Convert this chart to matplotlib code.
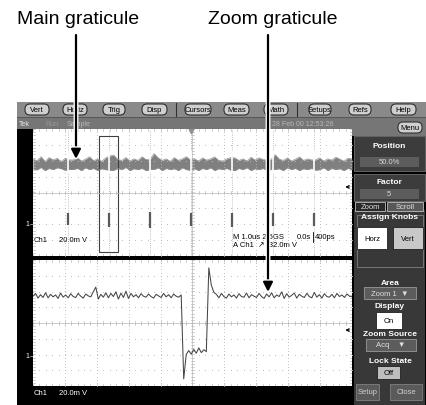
import numpy as np
import matplotlib
matplotlib.use("Agg")
import matplotlib.pyplot as plt
from matplotlib.patches import Rectangle, FancyBboxPatch
import matplotlib.patheffects as pe

plt.rcParams['font.family'] = ['Liberation Sans', 'DejaVu Sans']

W, H = 427, 406

# ---- data ----
menu_buttons = ['Vert', 'Horiz', 'Trig', 'Disp', 'Cursors', 'Meas', 'Math', 'Setups', 'Refs', 'Help']
callouts = ['Main graticule', 'Zoom graticule']

# main graticule trace: noisy band envelope (divisions)
main_upper = [2.10, 2.00, 2.25, 1.95, 2.20, 2.05, 2.15, 1.95, 2.15, 2.05,
              2.05, 2.20, 1.98, 2.10, 2.25, 2.00, 2.12, 1.96, 2.18, 2.30,
              2.35, 2.08, 2.02, 2.20, 1.98, 2.12, 2.02, 2.25, 2.08, 2.10,
              2.45, 2.18, 2.02, 2.12, 1.96, 2.20, 2.02, 2.12, 2.25, 2.05,
              2.12, 1.98, 2.18, 2.04, 2.12, 2.24, 2.02, 1.98, 2.12, 2.20,
              2.18, 2.02, 2.12, 1.98, 2.22, 2.04, 2.18, 2.08, 2.04, 2.10,
              2.38, 2.10, 2.02, 2.18, 1.98, 2.10, 2.24, 2.02, 2.12, 2.05,
              2.05, 2.18, 1.98, 2.12, 2.04, 2.22, 2.10, 1.98, 2.16, 2.10]
main_lower = [1.50, 1.42, 1.58, 1.38, 1.52, 1.44, 1.56, 1.50, 1.40, 1.45,
              1.45, 1.52, 1.38, 1.56, 1.44, 1.52, 1.38, 1.50, 1.44, 1.40,
              1.40, 1.52, 1.44, 1.58, 1.38, 1.50, 1.44, 1.52, 1.38, 1.45,
              1.45, 1.56, 1.38, 1.52, 1.44, 1.50, 1.38, 1.56, 1.44, 1.40,
              1.50, 1.38, 1.52, 1.44, 1.56, 1.38, 1.50, 1.44, 1.52, 1.40,
              1.38, 1.52, 1.44, 1.56, 1.38, 1.50, 1.44, 1.52, 1.38, 1.45,
              1.45, 1.50, 1.38, 1.56, 1.44, 1.52, 1.38, 1.50, 1.44, 1.52,
              1.40, 1.44, 1.56, 1.38, 1.52, 1.44, 1.50, 1.38, 1.52, 1.44]
glitch_x = [1.10, 2.38, 3.67, 4.95, 6.24, 7.52, 8.81]
glitch_top = [-1.30, -1.30, -1.25, -1.30, -1.30, -1.30, -1.30]
glitch_bottom = [-2.05, -2.15, -2.25, -2.10, -2.15, -2.10, -2.10]

# zoom graticule trace (divisions), one sample every 2.5 px
zoom_trace = [1.70, 1.88, 1.58, 1.80, 1.62, 1.92, 1.60, 1.82, 1.66, 1.78,
              1.56, 1.90, 1.64, 1.78, 1.60, 1.86, 1.68, 1.62, 1.88, 1.70,
              1.58, 1.84, 1.72, 1.66, 1.98, 2.28, 1.52, 1.82, 1.64, 1.92,
              1.60, 1.88, 1.68, 1.98, 1.52, 1.90, 1.62, 2.02, 1.56, 1.88,
              1.66, 1.80, 1.60, 1.86, 1.70, 1.64, 1.84, 1.68, 1.58, 1.82,
              1.72, 1.62, 1.88, 1.66, 1.80, 1.60, 1.84, 1.70, 1.64, 1.78,
              -3.55, -2.00, -1.75, -1.98, -1.68, -1.92, -1.58, -1.88, -1.70, -1.82,
              3.50, 2.40, 1.95, 1.82, 1.60, 1.88, 1.68, 1.58, 1.84, 1.66,
              1.78, 1.58, 1.86, 1.68, 1.64, 1.90, 1.60, 1.80, 1.70, 1.62,
              1.88, 1.68, 1.56, 1.84, 1.66, 1.92, 1.60, 1.78, 1.68, 1.98,
              1.56, 1.86, 1.64, 1.76, 1.90, 1.58, 1.82, 1.70, 1.62, 1.88,
              1.68, 1.60, 1.94, 1.64, 1.80, 1.58, 1.86, 1.68, 1.64, 1.82,
              1.60, 1.88, 1.68, 1.78, 1.62, 1.84, 1.70, 1.66]

fig = plt.figure(figsize=(W / 100, H / 100), dpi=100)
ui = fig.add_axes([0, 0, 1, 1], zorder=0)
ui.set_xlim(0, W)
ui.set_ylim(H, 0)
ui.set_axis_off()


def rect(x0, y0, x1, y1, fc, ec='none', lw=0.6, ax=ui, z=1):
    ax.add_patch(Rectangle((x0, y0), x1 - x0, y1 - y0, fc=fc, ec=ec, lw=lw, zorder=z))


def pill(x0, y0, x1, y1, label, fc='#cfcfcf', tc='black'):
    ui.add_patch(FancyBboxPatch((x0 + 3, y0 + 1), x1 - x0 - 6, y1 - y0 - 2,
                                boxstyle='round,pad=0,rounding_size=5',
                                fc=fc, ec='#303030', lw=0.8, zorder=3))
    ui.text((x0 + x1) / 2, (y0 + y1) / 2 + 0.5, label, ha='center', va='center',
            fontsize=5.5, color=tc, zorder=4)


def txt(x, y, s, c='white', size=5.5, ha='left', weight='normal'):
    ui.text(x, y, s, color=c, fontsize=size, ha=ha, va='center', weight=weight, zorder=6)


# ---- scope frame ----
rect(17, 103, W, 118, '#8a8a8a')
rect(17, 118, W, 130, '#767676')
rect(352, 118, W, 137, '#767676')
rect(17, 130, 33, H, 'black')
rect(17, 387, 352, H, 'black')
rect(17, 257, 352, 261, 'black')
rect(33, 130, 352, 257, 'white')
rect(33, 261, 352, 387, 'white')
rect(352, 137, W, H, 'black')
ui.plot([17, W], [118, 118], color='#505050', lw=0.6, zorder=2)

button_x = [(22, 52), (60, 90), (100, 128), (139, 170), (182, 214),
            (221, 252), (261, 291), (306, 334), (346, 374), (388, 419)]
for (x0, x1), name in zip(button_x, menu_buttons):
    pill(x0, 104, x1, 117, name)
for xs in (176, 297):
    ui.plot([xs, xs], [104, 117], color='#303030', lw=0.8, zorder=3)
pill(395, 122, 425, 135, 'Menu')

txt(19, 124, 'Tek', c='#e8e8e8', size=5)
txt(45, 124, 'Run', c='#9a9a9a', size=5)
txt(67, 124, 'Sample', c='#b8b8b8', size=5)
txt(272, 124, '28 Feb 00 12:53:26', c='#b8b8b8', size=5)

# ---- right side menu ----
rect(354, 137, 425, 172, '#3c3c3c', ec='#707070', z=2)
txt(389, 147, 'Position', size=6, ha='center', weight='bold')
rect(360, 158, 419, 168, '#5c5c5c', z=3)
txt(389, 163, '50.0%', c='#d8d8d8', size=5.5, ha='center')
rect(354, 175, 425, 202, '#3c3c3c', ec='#707070', z=2)
txt(389, 183, 'Factor', size=6, ha='center', weight='bold')
rect(360, 190, 419, 200, '#5c5c5c', z=3)
txt(389, 195, '5', c='#d8d8d8', size=5.5, ha='center')

rect(354, 211, 425, H, '#383838', z=2)
rect(355, 203, 385, 212, '#2a2a2a', ec='#c0c0c0', z=3)
txt(370, 207.5, 'Zoom', c='#e0e0e0', size=5.5, ha='center')
rect(387, 203, 423, 212, '#585858', ec='#c0c0c0', z=3)
txt(405, 207.5, 'Scroll', c='#e0e0e0', size=5.5, ha='center')
rect(357, 216, 423, 268, 'none', ec='#808080', z=3)
txt(390, 218, 'Assign Knobs', size=6, ha='center', weight='bold')
rect(357, 228, 387, 250, 'white', ec='#202020', z=4)
txt(372, 239.5, 'Horz', c='black', size=5.5, ha='center')
rect(393, 228, 423, 250, '#c8c8c8', ec='#202020', z=4)
txt(408, 239.5, 'Vert', c='black', size=5.5, ha='center')

txt(390, 284, 'Area', size=6, ha='center', weight='bold')
rect(364, 288, 416, 300, '#5c5c5c', ec='#9a9a9a', z=3)
txt(390, 294, 'Zoom 1  \u25bc', c='#e0e0e0', size=5.5, ha='center')
txt(390, 307, 'Display', size=6, ha='center', weight='bold')
rect(376, 313, 402, 330, 'white', ec='#202020', z=3)
txt(389, 321.5, 'On', c='black', size=5.5, ha='center')
txt(390, 335, 'Zoom Source', size=6, ha='center', weight='bold')
rect(366, 340, 416, 352, '#5c5c5c', ec='#9a9a9a', z=3)
txt(391, 346, 'Acq    \u25bc', c='#e0e0e0', size=5.5, ha='center')
txt(390, 362, 'Lock State', size=6, ha='center', weight='bold')
rect(377, 367, 400, 380, '#bdbdbd', ec='#202020', z=3)
txt(388.5, 373.5, 'Off', c='black', size=5.5, ha='center')
rect(356, 385, 379, 401, '#5a5a5a', ec='#808080', z=3)
txt(367.5, 393, 'Setup', c='#d0d0d0', size=5.5, ha='center')
rect(390, 385, 422, 401, '#5a5a5a', ec='#808080', z=3)
txt(406, 393, 'Close', c='#d0d0d0', size=5.5, ha='center')

# ---- graticules ----
GRID = '#b8b8b8'


def graticule(y0, y1):
    ax = fig.add_axes([33 / W, 1 - y1 / H, (352 - 33) / W, (y1 - y0) / H], zorder=2)
    ax.set_xlim(0, 10)
    ax.set_ylim(-4, 4)
    ax.set_axis_off()
    ys = np.arange(-4, 4.01, 0.2)
    xs = np.arange(0, 10.01, 0.2)
    for xi in range(1, 10):
        if xi != 5:
            ax.plot([xi] * len(ys), ys, ls='none', marker='s', ms=0.5, mew=0, color=GRID)
    for yi in range(-3, 4):
        if yi != 0:
            ax.plot(xs, [yi] * len(xs), ls='none', marker='s', ms=0.6, mew=0, color=GRID)
    ax.axhline(0, color=GRID, lw=0.5)
    ax.axvline(5, color=GRID, lw=0.5)
    for x in xs:
        ax.plot([x, x], [-0.12, 0.12], color=GRID, lw=0.5)
        ax.plot([x, x], [3.85, 4], color=GRID, lw=0.5)
        ax.plot([x, x], [-4, -3.85], color=GRID, lw=0.5)
    for y in ys:
        ax.plot([4.95, 5.05], [y, y], color=GRID, lw=0.5)
        ax.plot([0, 0.05], [y, y], color=GRID, lw=0.5)
        ax.plot([9.95, 10], [y, y], color=GRID, lw=0.5)
    return ax


main_ax = graticule(130, 257)
mx = np.linspace(0, 10, len(main_upper))
for gx in glitch_x:
    main_ax.axvline(gx, color='#b0b0b0', lw=0.6, ls=(0, (1, 1.5)))
main_ax.fill_between(mx, main_lower, main_upper, color='#808080', lw=0)
main_ax.plot(mx, main_upper, color='#909090', lw=0.5)
main_ax.plot(mx, main_lower, color='#909090', lw=0.5)
main_ax.vlines(glitch_x, 1.2, 2.6, color='white', lw=1.2)
main_ax.vlines(glitch_x, glitch_bottom, glitch_top, color='#5a5a5a', lw=1.6)
main_ax.plot([4.95], [3.9], marker='v', ms=3.5, color='#909090')
main_ax.add_patch(Rectangle((2.07, -3.75), 0.6, 7.3, fc='none', ec='#404040', lw=0.8))
main_ax.annotate('', xy=(10, 0.35), xytext=(9.7, 0.35),
                 arrowprops=dict(arrowstyle='<-', color='black', lw=0.8, mutation_scale=5))

zoom_ax = graticule(261, 387)
zx = np.linspace(0, 10, len(zoom_trace))
zoom_ax.plot(zx, zoom_trace, color='#454545', lw=0.75)
zoom_ax.annotate('', xy=(10, -0.45), xytext=(9.7, -0.45),
                 arrowprops=dict(arrowstyle='<-', color='black', lw=0.8, mutation_scale=5))

# readouts
txt(34, 241, 'Ch1', c='black', size=5.5)
txt(59, 241, '20.0m V', c='black', size=5.5)
txt(233, 238, 'M 1.0us 2.5GS', c='black', size=5.5)
txt(233, 246, 'A Ch1  \u2197  32.0m V', c='black', size=5.5)
txt(297, 238, '0.0s', c='black', size=5.5)
txt(315, 238, '400ps', c='black', size=5.5)
ui.plot([313, 313], [233, 243], color='black', lw=0.6, zorder=6)
txt(34, 394, 'Ch1', size=5.5)
txt(59, 394, '20.0m V', size=5.5)
txt(25, 225, '1\u2192', size=5)
txt(25, 357, '1\u2192', size=5)

# ---- callouts on top ----
top = fig.add_axes([0, 0, 1, 1], zorder=10)
top.set_xlim(0, W)
top.set_ylim(H, 0)
top.set_axis_off()
top.patch.set_alpha(0)
for label, lx, tx, tip in zip(callouts, [78, 273], [76, 268], [160, 293]):
    top.text(lx, 19, label, ha='center', va='center', fontsize=14, color='black')
    ann = top.annotate('', xy=(tx, tip), xytext=(tx, 36),
                       arrowprops=dict(arrowstyle='-|>', color='black', lw=1.6,
                                       mutation_scale=14, shrinkA=0, shrinkB=0))
    ann.arrow_patch.set_path_effects([pe.Stroke(linewidth=3.5, foreground='white'), pe.Normal()])

fig.savefig('out.png', dpi=100)
